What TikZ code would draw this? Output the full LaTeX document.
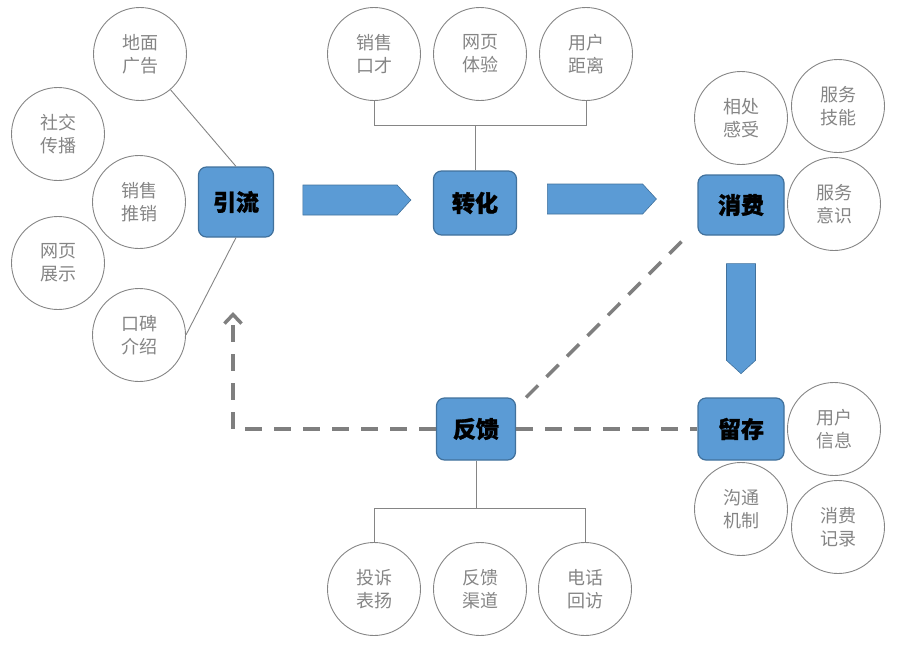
\documentclass[tikz,border=0pt]{standalone}
\usepackage{fontspec}
\setmainfont{Noto Sans CJK SC}[BoldFeatures={FakeBold=1.2}]
\usetikzlibrary{arrows.meta,positioning,shapes.arrows,calc}
\definecolor{stageblue}{HTML}{5B9BD5}
\definecolor{stageedge}{HTML}{41719C}
\definecolor{itemgray}{HTML}{858585}
\definecolor{backgray}{HTML}{7F7F7F}
\tikzset{
  fl/stage/.style={draw=stageedge, fill=stageblue, line width=1.2pt, rounded corners=8pt, minimum width=82pt, minimum height=62pt, inner sep=0pt, font=\fontsize{23}{26}\selectfont\bfseries, text=black},
  fl/item/.style={draw=itemgray, circle, line width=0.9pt, minimum size=93pt, inner sep=0pt, align=center, text=itemgray, font=\fontsize{18}{23}\selectfont},
  fl/link/.style={draw=itemgray, line width=0.9pt},
  fl/back/.style={draw=backgray, line width=3.5pt, dash pattern=on 17pt off 12pt},
  fl/pipe/.style={single arrow, single arrow head extend=0pt, single arrow tip angle=95, fill=stageblue, draw=stageedge, line width=0.6pt, inner sep=0pt, minimum width=30pt}
}

\begin{document}
\begin{tikzpicture}[x=1pt, y=-1pt]
  \useasboundingbox (0,0) rectangle (897,646);

  % stages
  \node[fl/stage, minimum width=75pt, minimum height=70pt] (yl) at (236,202) {引流};
  \node[fl/stage, minimum width=83pt, minimum height=64pt] (zh) at (475,203) {转化};
  \node[fl/stage, minimum width=86pt, minimum height=60pt] (xf) at (741,205) {消费};
  \node[fl/stage, minimum width=86pt] (lc) at (741,429) {留存};
  \node[fl/stage, minimum width=79pt] (fb) at (476,429) {反馈};

  \node[fl/pipe, minimum height=108pt] (p1) at (350,200) {};
  \node[fl/pipe, minimum height=109pt] (p2) at (595,199) {};
  \node[fl/pipe, minimum height=110pt, minimum width=29pt, shape border rotate=270] (p3) at (741,312) {};

  % 引流
  \node[fl/item] (dm) at (140,54) {地面\\广告};
  \node[fl/item] (sj) at (58,134) {社交\\传播};
  \node[fl/item] (xt) at (139,202) {销售\\推销};
  \node[fl/item] (wz) at (58,263) {网页\\展示};
  \node[fl/item] (kb) at (139,335) {口碑\\介绍};
  \draw[fl/link] (dm) -- (yl.north);
  \draw[fl/link] (yl.south) -- (kb.east);

  % 转化
  \node[fl/item] (xk) at (374,54) {销售\\口才};
  \node[fl/item] (wt) at (480,54) {网页\\体验};
  \node[fl/item] (yj) at (586,54) {用户\\距离};
  \coordinate (zhBar) at (475,125);
  \draw[fl/link] (xk.south) -- (xk.south |- zhBar) -- (yj.south |- zhBar) -- (yj.south);
  \draw[fl/link] (zh.north) -- (zhBar);

  % 消费, 留存
  \node[fl/item] (xg) at (741,118) {相处\\感受};
  \node[fl/item] (jn) at (838,106) {服务\\技能};
  \node[fl/item] (ys) at (834,204) {服务\\意识};
  \node[fl/item] (yx) at (834,429) {用户\\信息};
  \node[fl/item] (gt) at (741,509) {沟通\\机制};
  \node[fl/item] (jl) at (838,527) {消费\\记录};

  % 反馈
  \node[fl/item] (ts) at (374,589) {投诉\\表扬};
  \node[fl/item] (qd) at (480,589) {反馈\\渠道};
  \node[fl/item] (hf) at (585,589) {电话\\回访};
  \coordinate (fbBar) at (476,508);
  \draw[fl/link] (ts.north) -- (ts.north |- fbBar) -- (hf.north |- fbBar) -- (hf.north);
  \draw[fl/link] (fb.south) -- (fbBar);

  % feedback loop
  \coordinate (loopEnd) at (233,312);
  \draw[fl/back, -{Straight Barb[length=9pt, width=17pt]}] (fb.west) -| (loopEnd);
  \draw[fl/back] (fb.east) -- (lc.west);
  \draw[fl/back] ([xshift=10pt]fb.north east) -- ([xshift=-10pt]xf.south west);
\end{tikzpicture}
\end{document}
